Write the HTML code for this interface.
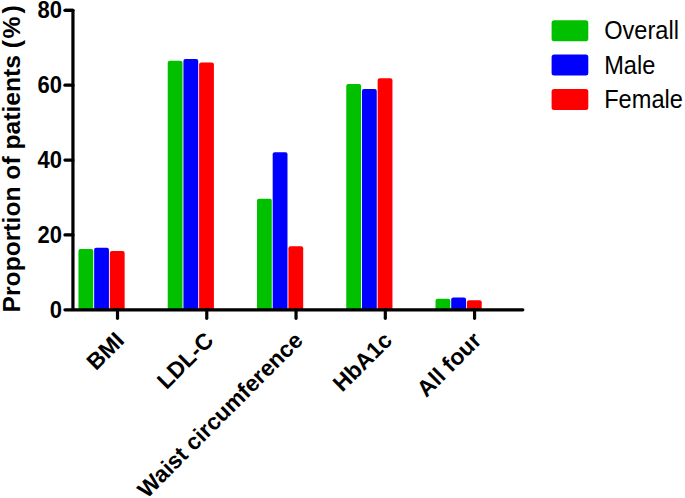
<!DOCTYPE html><html><head><meta charset="utf-8"><style>html,body{margin:0;padding:0;background:#fff;}svg{display:block;}text{font-family:"Liberation Sans",sans-serif;}</style></head><body>
<svg width="685" height="498" viewBox="0 0 685 498">
<rect width="685" height="498" fill="#fff"/>
<path d="M78.45,309.80 V251.05 Q78.45,249.05 80.45,249.05 H91.25 Q93.25,249.05 93.25,251.05 V309.80 Z" fill="#00C000"/>
<path d="M94.15,309.80 V249.80 Q94.15,247.80 96.15,247.80 H106.95 Q108.95,247.80 108.95,249.80 V309.80 Z" fill="#0000FF"/>
<path d="M109.85,309.80 V253.10 Q109.85,251.10 111.85,251.10 H122.65 Q124.65,251.10 124.65,253.10 V309.80 Z" fill="#FF0000"/>
<path d="M167.72,309.80 V62.80 Q167.72,60.80 169.72,60.80 H180.52 Q182.52,60.80 182.52,62.80 V309.80 Z" fill="#00C000"/>
<path d="M183.42,309.80 V61.10 Q183.42,59.10 185.42,59.10 H196.22 Q198.22,59.10 198.22,61.10 V309.80 Z" fill="#0000FF"/>
<path d="M199.12,309.80 V64.40 Q199.12,62.40 201.12,62.40 H211.92 Q213.92,62.40 213.92,64.40 V309.80 Z" fill="#FF0000"/>
<path d="M256.99,309.80 V200.70 Q256.99,198.70 258.99,198.70 H269.79 Q271.79,198.70 271.79,200.70 V309.80 Z" fill="#00C000"/>
<path d="M272.69,309.80 V154.30 Q272.69,152.30 274.69,152.30 H285.49 Q287.49,152.30 287.49,154.30 V309.80 Z" fill="#0000FF"/>
<path d="M288.39,309.80 V248.30 Q288.39,246.30 290.39,246.30 H301.19 Q303.19,246.30 303.19,248.30 V309.80 Z" fill="#FF0000"/>
<path d="M346.26,309.80 V86.05 Q346.26,84.05 348.26,84.05 H359.06 Q361.06,84.05 361.06,86.05 V309.80 Z" fill="#00C000"/>
<path d="M361.96,309.80 V91.10 Q361.96,89.10 363.96,89.10 H374.76 Q376.76,89.10 376.76,91.10 V309.80 Z" fill="#0000FF"/>
<path d="M377.66,309.80 V80.35 Q377.66,78.35 379.66,78.35 H390.46 Q392.46,78.35 392.46,80.35 V309.80 Z" fill="#FF0000"/>
<path d="M435.53,309.80 V300.80 Q435.53,298.80 437.53,298.80 H448.33 Q450.33,298.80 450.33,300.80 V309.80 Z" fill="#00C000"/>
<path d="M451.23,309.80 V299.40 Q451.23,297.40 453.23,297.40 H464.03 Q466.03,297.40 466.03,299.40 V309.80 Z" fill="#0000FF"/>
<path d="M466.93,309.80 V302.30 Q466.93,300.30 468.93,300.30 H479.73 Q481.73,300.30 481.73,302.30 V309.80 Z" fill="#FF0000"/>
<path d="M64.95,10.30 H72.95 V309.80" fill="none" stroke="#000" stroke-width="3.2" stroke-linecap="butt" stroke-linejoin="round"/>
<path d="M64.95,234.93 H72.95" stroke="#000" stroke-width="3.2" stroke-linecap="round"/>
<path d="M64.95,160.05 H72.95" stroke="#000" stroke-width="3.2" stroke-linecap="round"/>
<path d="M64.95,85.18 H72.95" stroke="#000" stroke-width="3.2" stroke-linecap="round"/>
<path d="M64.95,10.30 H72.95" stroke="#000" stroke-width="3.2" stroke-linecap="round"/>
<path d="M64.95,309.80 H522.80" stroke="#000" stroke-width="3.2" stroke-linecap="round"/>
<path d="M117.50,309.80 V318.30" stroke="#000" stroke-width="3.2" stroke-linecap="round"/>
<path d="M206.77,309.80 V318.30" stroke="#000" stroke-width="3.2" stroke-linecap="round"/>
<path d="M296.04,309.80 V318.30" stroke="#000" stroke-width="3.2" stroke-linecap="round"/>
<path d="M385.31,309.80 V318.30" stroke="#000" stroke-width="3.2" stroke-linecap="round"/>
<path d="M474.58,309.80 V318.30" stroke="#000" stroke-width="3.2" stroke-linecap="round"/>
<text transform="translate(61.90,309.30) scale(1,1.08)" y="7.92" font-size="22" font-weight="bold" text-anchor="end">0</text>
<text transform="translate(61.90,234.43) scale(1,1.08)" y="7.92" font-size="22" font-weight="bold" text-anchor="end">20</text>
<text transform="translate(61.90,159.55) scale(1,1.08)" y="7.92" font-size="22" font-weight="bold" text-anchor="end">40</text>
<text transform="translate(61.90,84.68) scale(1,1.08)" y="7.92" font-size="22" font-weight="bold" text-anchor="end">60</text>
<text transform="translate(61.90,9.80) scale(1,1.08)" y="7.92" font-size="22" font-weight="bold" text-anchor="end">80</text>
<text transform="translate(20.10,158.85) rotate(-90) scale(1.072,1)" font-size="23" font-weight="bold" text-anchor="middle">Proportion of patients (<tspan dx="1.3">%</tspan><tspan dx="3.0">)</tspan></text>
<text transform="translate(125.60,341.80) rotate(-45)" font-size="22.8" font-weight="bold" text-anchor="end">BMI</text>
<text transform="translate(214.87,341.80) rotate(-45)" font-size="22.8" font-weight="bold" text-anchor="end">LDL-C</text>
<text transform="translate(304.14,341.80) rotate(-45)" font-size="22.8" font-weight="bold" text-anchor="end">Waist circumference</text>
<text transform="translate(393.41,341.80) rotate(-45)" font-size="22.8" font-weight="bold" text-anchor="end">HbA1c</text>
<text transform="translate(482.68,341.80) rotate(-45)" font-size="22.8" font-weight="bold" text-anchor="end">All four</text>
<rect x="551.60" y="20.20" width="36.70" height="21.00" rx="2.5" fill="#00C000"/>
<text transform="translate(604.20,30.45) scale(1,1.068)" y="8.12" font-size="23.6">Overall</text>
<rect x="551.60" y="54.60" width="36.70" height="21.00" rx="2.5" fill="#0000FF"/>
<text transform="translate(604.20,64.85) scale(1,1.068)" y="8.12" font-size="23.6">Male</text>
<rect x="551.60" y="89.00" width="36.70" height="21.00" rx="2.5" fill="#FF0000"/>
<text transform="translate(604.20,99.25) scale(1,1.068)" y="8.12" font-size="23.6">Female</text>
</svg></body></html>
